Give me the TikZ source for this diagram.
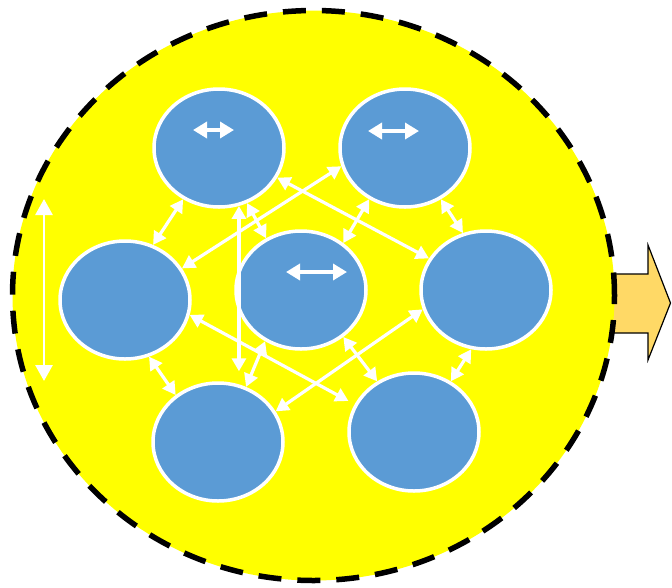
\documentclass[tikz,border=0pt]{standalone}
\usetikzlibrary{arrows.meta,calc,shapes.geometric}
\definecolor{ylw}{HTML}{FFFF00}
\definecolor{blu}{HTML}{5B9BD5}
\definecolor{org}{HTML}{FFD966}
\begin{document}
\begin{tikzpicture}[x=1pt,y=-1pt,
  pool/.style={ellipse,draw=black,fill=ylw,line width=5.5pt,dash pattern=on 23pt off 16pt,minimum width=602pt,minimum height=570pt,inner sep=0pt},
  cell/.style={ellipse,draw=white,line width=3.5pt,fill=blu,minimum width=130pt,minimum height=118pt,inner sep=0pt},
  dbl/.style={draw=white,line width=3.2pt,{Triangle[length=13pt,width=14pt]}-{Triangle[length=13pt,width=14pt]}},
  inner/.style={draw=white,line width=3.8pt,{Triangle[length=14pt,width=16pt]}-{Triangle[length=14pt,width=16pt]}},
  side/.style={draw=white,line width=2.8pt,{Triangle[length=16pt,width=17pt]}-{Triangle[length=16pt,width=17pt]}},
  blockarrow/.style={draw=black,fill=org,line width=1.2pt,line join=miter}]
\useasboundingbox (0,0) rectangle (672,587);
% output arrow (behind the pool)
\draw[blockarrow] (585,274) -- (648,274) -- (648,245) -- (670.5,303) -- (648,360) -- (648,333) -- (585,333) -- cycle;
% pool
\node[pool] (pool) at (313.5,295.5) {};
% cells
\node[cell] (tl) at (219,148) {};
\node[cell] (tr) at (405,148) {};
\node[cell] (ml) at (125,300) {};
\node[cell] (c)  at (301,290) {};
\node[cell] (mr) at (486,290) {};
\node[cell] (bl) at (218,442) {};
\node[cell] (br) at (414,432) {};
% inner arrows
\draw[inner] ([shift={(-26,-18)}]tl.center) -- ([shift={(15,-18)}]tl.center);
\draw[inner] ([shift={(-37,-17)}]tr.center) -- ([shift={(14,-17)}]tr.center);
\draw[inner] ([shift={(-15,-18)}]c.center) -- ([shift={(46,-18)}]c.center);
% side arrow
\coordinate (s1) at (44,199);
\coordinate (s2) at (44,381);
\draw[side] (s1) -- (s2);
% connectors
\draw[dbl] (tl.235) -- (ml.63);
\draw[dbl] (tl.297) -- (c.124);
\draw[dbl] (tr.235) -- (c.48);
\draw[dbl] (tr.305) -- (mr.112);
\draw[dbl] (tl.333) -- (mr.151);
\draw[dbl] (ml.29) -- (tr.196);
\draw[dbl,shorten >=10pt] (tl.289) -- (tl.289 |- bl.north);
\draw[dbl,shorten >=7pt] (ml.347) -- (br.155);
\draw[dbl] (mr.197) -- (bl.28);
\draw[dbl] (c.235) -- (bl.63);
\draw[dbl] (c.312) -- (br.126);
\draw[dbl] (ml.293) -- (bl.132);
\draw[dbl] (mr.256) -- (br.54);
\end{tikzpicture}
\end{document}
